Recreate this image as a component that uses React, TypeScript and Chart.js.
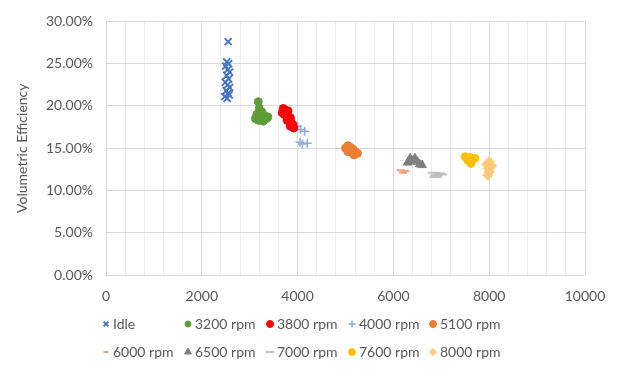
import React, { useEffect, useRef } from "react";
import { Chart, registerables } from "chart.js";
import { drawPoint } from "chart.js/helpers";

Chart.register(...registerables);

const seriesNames = ["Idle", "3200 rpm", "3800 rpm", "4000 rpm", "5100 rpm", "6000 rpm", "6500 rpm", "7000 rpm", "7600 rpm", "8000 rpm"];

const idleX = [2550, 2520, 2560, 2500, 2540, 2580, 2520, 2560, 2490, 2540, 2580, 2510, 2550, 2480, 2530, 2570];
const idleY = [0.276, 0.252, 0.250, 0.247, 0.243, 0.240, 0.236, 0.232, 0.228, 0.225, 0.222, 0.218, 0.215, 0.211, 0.209, 0.213];

const r3200X = [3180, 3200, 3250, 3150, 3300, 3220, 3350, 3180, 3280, 3380, 3260, 3120];
const r3200Y = [0.205, 0.197, 0.193, 0.190, 0.189, 0.186, 0.185, 0.183, 0.182, 0.187, 0.191, 0.185];

const r3800X = [3700, 3750, 3800, 3720, 3800, 3850, 3780, 3860, 3900, 3850, 3920, 3680];
const r3800Y = [0.197, 0.195, 0.194, 0.190, 0.188, 0.186, 0.183, 0.181, 0.178, 0.176, 0.174, 0.192];

const r4000X = [4000, 4060, 4150, 4050, 4100, 4200];
const r4000Y = [0.176, 0.172, 0.170, 0.157, 0.155, 0.156];

const r5100X = [5050, 5100, 5000, 5150, 5080, 5200, 5120, 5250, 5180, 5050];
const r5100Y = [0.153, 0.151, 0.150, 0.149, 0.147, 0.146, 0.145, 0.144, 0.142, 0.146];

const r6000X = [6150, 6250, 6200];
const r6000Y = [0.124, 0.123, 0.121];

const r6500X = [6350, 6450, 6400, 6500, 6550, 6600, 6300];
const r6500Y = [0.138, 0.138, 0.135, 0.134, 0.131, 0.130, 0.133];

const r7000X = [6850, 6950, 6900, 7000, 6880];
const r7000Y = [0.121, 0.120, 0.118, 0.119, 0.116];

const r7600X = [7500, 7600, 7650, 7550, 7600, 7700, 7620];
const r7600Y = [0.140, 0.139, 0.137, 0.136, 0.134, 0.138, 0.132];

const r8000X = [8000, 7950, 8050, 7980, 8000, 7970];
const r8000Y = [0.134, 0.131, 0.129, 0.126, 0.122, 0.118];

const xTickLabels = ["0", "2000", "4000", "6000", "8000", "10000"];
const yTickLabels = ["0.00%", "5.00%", "10.00%", "15.00%", "20.00%", "25.00%", "30.00%"];

const seriesX = [idleX, r3200X, r3800X, r4000X, r5100X, r6000X, r6500X, r7000X, r7600X, r8000X];
const seriesY = [idleY, r3200Y, r3800Y, r4000Y, r5100Y, r6000Y, r6500Y, r7000Y, r7600Y, r8000Y];

const colors = ["#4472C4", "#5E9C3A", "#FF0000", "#8FAADC", "#ED7D31", "#F4A07E", "#7F7F7F", "#BFBFBF", "#FFC000", "#FFC977"];
const styles: any[] = ["crossRot", "circle", "circle", "cross", "circle", "line", "triangle", "line", "circle", "rectRot"];
const radii = [5, 4, 4, 4.5, 4, 4, 5, 6, 4, 5];
const legendRadii = [3.5, 3, 3.5, 3.5, 3.5, 2.5, 4, 4, 3.5, 3.5];
const borderW = [1.8, 1, 1, 1.5, 1, 2, 1, 2, 1, 1];

const FONT = "Lato, 'Open Sans', sans-serif";
const TEXT = "#595959";

const legendPlugin = {
  id: "gridLegend",
  afterDraw(chart: any) {
    const ctx = chart.ctx;
    const colX = [106, 188, 270, 352, 433];
    const rowY = [324, 352];
    ctx.save();
    ctx.font = `14px ${FONT}`;
    ctx.textBaseline = "middle";
    ctx.textAlign = "left";
    seriesNames.forEach((name, i) => {
      const cx = colX[i % 5];
      const cy = rowY[Math.floor(i / 5)];
      ctx.fillStyle = colors[i];
      ctx.strokeStyle = colors[i];
      ctx.lineWidth = borderW[i];
      drawPoint(ctx, { pointStyle: styles[i], radius: legendRadii[i], rotation: 0, borderWidth: borderW[i] } as any, cx, cy);
      ctx.fillStyle = TEXT;
      ctx.fillText(name, cx + 7, cy);
    });
    ctx.restore();
  },
};

export default function App() {
  const ref = useRef<HTMLCanvasElement | null>(null);

  useEffect(() => {
    document.body.style.margin = "0";
    const datasets = seriesNames.map((name, i) => ({
      label: name,
      data: seriesX[i].map((x, j) => ({ x, y: seriesY[i][j] })),
      backgroundColor: colors[i],
      borderColor: colors[i],
      pointStyle: styles[i],
      pointRadius: radii[i],
      pointBorderWidth: borderW[i],
      showLine: false,
    }));
    const chart = new Chart(ref.current as HTMLCanvasElement, {
      type: "scatter",
      data: { datasets },
      options: {
        animation: false,
        responsive: true,
        maintainAspectRatio: false,
        layout: { padding: { left: 0, right: 40, top: 17, bottom: 0 } },
        plugins: { legend: { display: false }, tooltip: { enabled: false } },
        scales: {
          x: {
            type: "linear",
            min: 0,
            max: 10000,
            afterFit: (s: any) => { s.height = 100; },
            ticks: {
              stepSize: 400,
              autoSkip: false,
              maxRotation: 0,
              padding: 13,
              color: TEXT,
              font: { family: FONT, size: 14 },
              callback: (v: any) => (Number(v) % 2000 === 0 ? xTickLabels[Number(v) / 2000] : ""),
            },
            grid: {
              drawTicks: false,
              color: (c: any) => (c.tick && c.tick.value % 2000 === 0 ? "#D9D9D9" : "#EFEFEF"),
            },
            border: { display: false },
          },
          y: {
            type: "linear",
            min: 0,
            max: 0.3,
            afterFit: (s: any) => { s.width = 106; },
            ticks: {
              stepSize: 0.05,
              padding: 13,
              color: TEXT,
              font: { family: FONT, size: 14 },
              callback: (v: any) => yTickLabels[Math.round(Number(v) / 0.05)],
            },
            grid: { drawTicks: false, color: "#D9D9D9" },
            border: { display: false },
            title: {
              display: true,
              text: "Volumetric Efficiency",
              color: TEXT,
              font: { family: FONT, size: 14 },
              padding: { top: 14, bottom: 0 },
            },
          },
        },
      },
      plugins: [legendPlugin],
    });
    return () => chart.destroy();
  }, []);

  return (
    <div style={{ width: 625, height: 375, position: "relative" }}>
      <canvas ref={ref} />
    </div>
  );
}
